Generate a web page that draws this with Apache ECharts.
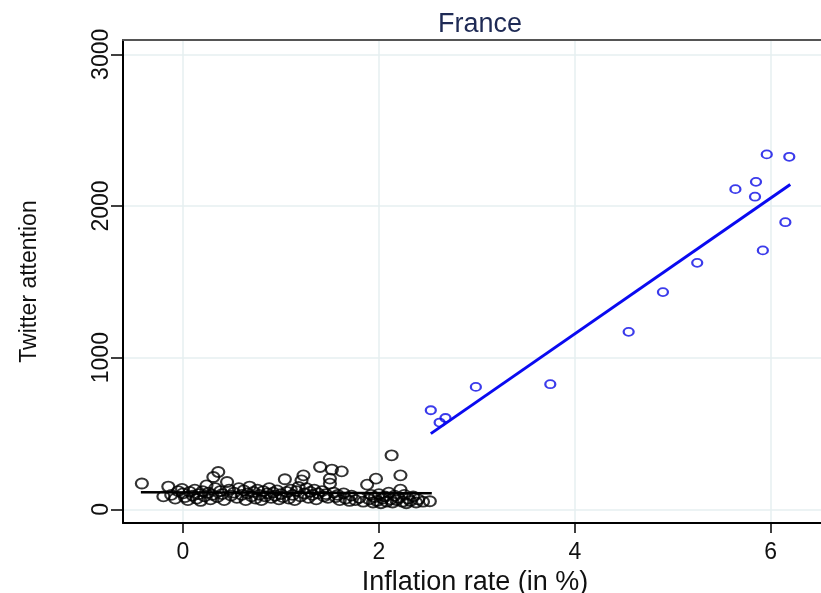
<!DOCTYPE html>
<html>
<head>
<meta charset="utf-8">
<script src="https://cdn.jsdelivr.net/npm/echarts@6/dist/echarts.min.js"></script>
<style>
html,body{margin:0;padding:0;background:#fff;}
#chart{width:821px;height:593px;}
</style>
</head>
<body>
<div id="chart"></div>
<script>
// ---- Data ----
var titleText = 'France';
var xName = 'Inflation rate (in %)';
var yName = 'Twitter attention';
var xTicks = [0, 2, 4, 6];
var yTicks = [0, 1000, 2000, 3000];

// low-inflation regime (black)
var lowX = [-0.42,-0.2,-0.15,-0.12,-0.08,-0.05,-0.01,0.02,0.0,
  0.05,0.07,0.1,0.12,0.14,0.16,0.18,0.2,0.22,0.24,0.26,0.28,0.3,0.31,0.33,0.35,0.36,0.38,0.4,0.42,0.45,0.47,0.49,
  0.52,0.55,0.57,0.6,0.62,0.64,0.66,0.68,0.7,0.72,0.74,0.76,0.78,0.8,0.82,0.84,0.86,0.88,0.9,0.92,0.94,0.96,0.98,
  1.0,1.02,1.04,1.06,1.08,1.1,1.12,1.14,1.16,1.18,1.2,1.21,1.23,1.24,1.26,1.28,1.3,1.32,1.34,1.36,1.38,1.4,1.42,1.44,1.46,1.48,1.5,1.5,1.52,
  1.54,1.56,1.58,1.6,1.62,1.64,1.66,1.7,1.72,1.76,1.8,1.84,1.88,1.9,1.92,1.94,1.96,1.97,1.98,
  2.0,2.02,2.04,2.06,2.08,2.1,2.12,2.13,2.14,2.16,2.18,2.2,2.22,2.22,2.24,2.26,2.28,2.3,2.32,2.35,2.38,2.4,2.45,2.52];
var lowY = [170,85,150,95,70,120,135,80,105,
  60,115,90,130,70,100,55,120,85,158,110,65,95,213,140,80,246,120,100,60,180,130,90,
  110,75,140,95,125,60,105,150,85,115,70,130,95,60,120,85,105,140,75,110,90,125,65,
  100,80,198,115,70,130,95,60,120,147,85,191,224,105,140,75,115,95,130,65,105,279,120,85,100,75,202,169,262,
  110,80,95,60,250,105,70,55,90,60,75,50,163,65,95,45,80,202,55,
  100,40,70,85,50,110,65,356,45,90,60,75,224,130,50,95,40,70,55,85,45,65,50,53];

// high-inflation regime (blue)
var highX = [5.96,6.19,5.85,5.64,5.84,6.15,5.92,5.25,4.90,4.55,3.75,2.99,2.53,2.68,2.62];
var highY = [2340,2324,2159,2111,2061,1893,1707,1625,1432,1170,825,807,653,602,572];

// fitted lines (endpoints)
var lowFitX = [-0.43, 2.54];
var lowFitY = [112, 106];
var highFitX = [2.53, 6.20];
var highFitY = [499, 2142];

function pairs(xs, ys) { return xs.map(function (x, i) { return [x, ys[i]]; }); }

var chart = echarts.init(document.getElementById('chart'));
var FONT = '"Liberation Sans", Arial, sans-serif';
var XMIN = -0.6126, XMAX = 6.575;

chart.setOption({
  animation: false,
  backgroundColor: '#ffffff',
  title: {
    text: titleText,
    left: 475,
    top: 6,
    textAlign: 'center',
    textStyle: { fontFamily: FONT, fontSize: 27, fontWeight: 'normal', color: '#1e2a55' }
  },
  grid: { left: 123, top: 40, right: -6, bottom: 70, show: false, outerBoundsMode: 'none', containLabel: false },
  xAxis: [{
    type: 'value',
    min: XMIN,
    max: XMAX,
    name: xName,
    nameLocation: 'middle',
    nameGap: 45,
    nameTextStyle: { fontFamily: FONT, fontSize: 27, color: '#111' },
    axisLine: { show: true, onZero: false, lineStyle: { color: '#000', width: 2 } },
    axisTick: { show: true, length: 10, customValues: xTicks, lineStyle: { color: '#000', width: 1.5 } },
    axisLabel: { customValues: xTicks, margin: 18, fontFamily: FONT, fontSize: 23, color: '#111' },
    splitLine: { show: true, lineStyle: { color: '#e6eff1', width: 1.5 } }
  }, {
    type: 'value',
    position: 'top',
    min: XMIN,
    max: XMAX,
    axisLine: { show: true, onZero: false, lineStyle: { color: '#555555', width: 2 } },
    axisTick: { show: false },
    axisLabel: { show: false },
    splitLine: { show: false }
  }],
  yAxis: {
    type: 'value',
    min: -90.4,
    max: 3094.3,
    name: yName,
    nameLocation: 'middle',
    nameGap: 82,
    nameRotate: 90,
    nameTextStyle: { fontFamily: FONT, fontSize: 23, color: '#111' },
    axisLine: { show: true, onZero: false, lineStyle: { color: '#000', width: 2 } },
    axisTick: { show: true, length: 12, customValues: yTicks, lineStyle: { color: '#000', width: 1.5 } },
    axisLabel: {
      customValues: yTicks, rotate: 90, margin: 10, fontFamily: FONT, fontSize: 23, color: '#111',
      formatter: function (v) { return String(v); }
    },
    splitLine: { show: true, lineStyle: { color: '#e6eff1', width: 1.5 } }
  },
  series: [
    {
      type: 'scatter',
      data: pairs(lowX, lowY),
      symbol: 'circle',
      symbolSize: [12, 10],
      itemStyle: { color: 'rgba(0,0,0,0)', borderColor: '#000000', borderWidth: 2 },
      z: 3
    },
    {
      type: 'scatter',
      data: pairs(highX, highY),
      symbol: 'circle',
      symbolSize: [10, 8],
      itemStyle: { color: 'rgba(0,0,0,0)', borderColor: '#0a0ae6', borderWidth: 2 },
      z: 3
    },
    {
      type: 'line',
      data: pairs(lowFitX, lowFitY),
      showSymbol: false,
      lineStyle: { color: '#000000', width: 2.5 },
      z: 4
    },
    {
      type: 'line',
      data: pairs(highFitX, highFitY),
      showSymbol: false,
      lineStyle: { color: '#0a0af0', width: 3 },
      z: 4
    }
  ]
});
</script>
</body>
</html>
